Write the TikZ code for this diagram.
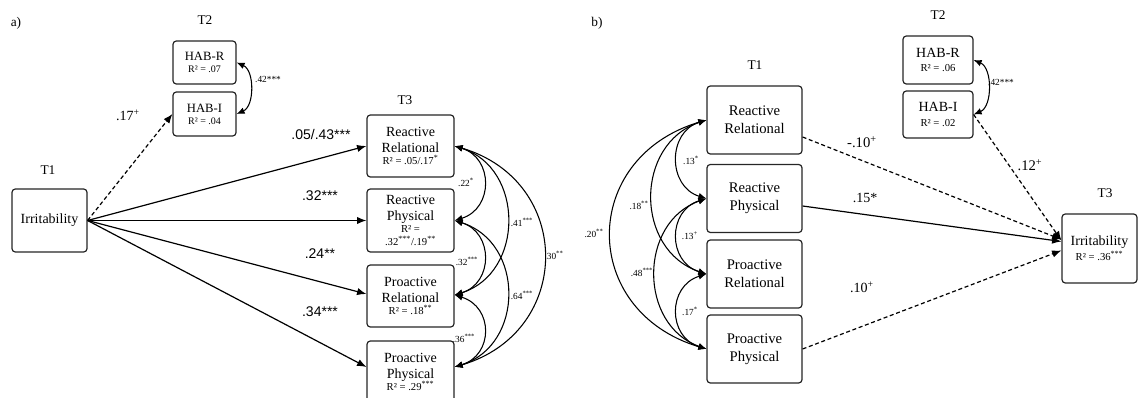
\documentclass[tikz,border=0pt]{standalone}
\usepackage{fontspec}
\setmainfont{Liberation Serif}
\newfontfamily\sanslabel{Liberation Sans}
\usetikzlibrary{arrows.meta,calc}

\newcommand\sig[1]{\textsuperscript{#1}}
\newcommand\rsqfont{\fontsize{8}{9}\selectfont}

\tikzset{
  >={Latex[length=7pt,width=5.5pt]},
  box/.style={draw=black!85, line width=0.9pt, rounded corners=2.5pt, align=center, inner sep=0pt, fill=white},
  lbox/.style={box, minimum width=65.25pt, minimum height=46.5pt, font=\fontsize{10.5}{12}\selectfont},
  rbox/.style={box, minimum width=71.25pt, minimum height=51pt, font=\fontsize{11}{13.5}\selectfont},
  habbox/.style={box, font=\fontsize{9.5}{11}\selectfont},
  effect/.style={->, line width=0.9pt},
  weak/.style={effect, dash pattern=on 3pt off 2pt},
  corr/.style={{Latex[length=6pt,width=5pt]}-{Latex[length=6pt,width=5pt]}, line width=0.8pt},
  wave/.style={font=\fontsize{10}{12}\selectfont, inner sep=0pt},
  coef/.style={font=\fontsize{10.5}{12}\selectfont, inner sep=0pt},
  coefsans/.style={font=\sanslabel\fontsize{10.5}{12}\selectfont, inner sep=0pt},
  rcoef/.style={font=\fontsize{7}{8}\selectfont, inner sep=0pt},
}

\begin{document}
\begin{tikzpicture}[x=0.75pt, y=-0.75pt]
\useasboundingbox (0,0) rectangle (1139,398);
\clip (0,0) rectangle (1139,398);

% ---------------- panel a ----------------
\node[wave] (pa) at (16,23) {a)};
\node[wave] (a1) at (48,170) {T1};
\node[wave] (a2) at (205,20) {T2};
\node[wave] (a3) at (405,100) {T3};

\node[box, minimum width=56.25pt, minimum height=47.25pt, font=\fontsize{10.5}{12}\selectfont] (airr) at (49.5,220.5) {Irritability};

\node[habbox, minimum width=47.25pt, minimum height=32.25pt] (ahabr) at (204.5,62.5)
  {HAB-R\\[-2pt]{\fontsize{7.5}{9}\selectfont R² = .07}};
\node[habbox, minimum width=47.25pt, minimum height=33pt] (ahabi) at (204.5,114)
  {HAB-I\\[-2pt]{\fontsize{7.5}{9}\selectfont R² = .04}};

\node[lbox] (arr) at (410.5,146)
  {Reactive\\Relational\\[-3.5pt]{\rsqfont R² = .05/.17\sig{*}}};
\node[lbox, minimum height=47.25pt] (arp) at (410.5,220.5)
  {Reactive\\Physical\\[-3pt]{\rsqfont R² =}\\[-2.5pt]{\rsqfont .32\sig{***}/.19\sig{**}}};
\node[lbox] (apr) at (410.5,296)
  {Proactive\\Relational\\[-3.5pt]{\rsqfont R² = .18\sig{**}}};
\node[lbox] (app) at (410.5,372)
  {Proactive\\Physical\\[-3.5pt]{\rsqfont R² = .29\sig{***}}};

% paths from irritability
\draw[weak] (airr.east) -- (ahabi.west);
\draw[effect] (airr.east) -- (arr.west);
\draw[effect] (airr.east) -- (arp.west);
\draw[effect] (airr.east) -- ($(apr.west)+(0,-2)$);
\draw[effect] (airr.east) -- ($(app.west)+(0,-5)$);

\node[coef] (c17) at (128,115) {.17\sig{+}};
\node[coefsans] (c05) at (321,135) {.05/.43***};
\node[coefsans] (c32) at (320,196) {.32***};
\node[coefsans] (c24) at (320,254) {.24**};
\node[coefsans] (c34) at (320,312) {.34***};

% correlations at T2
\draw[corr] (ahabr.east) .. controls +(18,8) and +(18,-8) .. (ahabi.east);
\node[rcoef] (chab) at (268,79) {.42***};

% correlations at T3
\draw[corr] (arr.east) .. controls +(39,12) and +(39,-12) .. (arp.east);
\draw[corr] (arp.east) .. controls +(39,12) and +(39,-12) .. ($(apr.east)+(0,-1)$);
\draw[corr] ($(apr.east)+(0,-1)$) .. controls +(39,12) and +(39,-12) .. ($(app.east)+(0,-5)$);
\draw[corr] (arr.east) .. controls +(70,22) and +(70,-22) .. ($(apr.east)+(0,-1)$);
\draw[corr] (arp.east) .. controls +(70,22) and +(70,-22) .. ($(app.east)+(0,-5)$);
\draw[corr] (arr.east) .. controls +(119,35) and +(119,-35) .. ($(app.east)+(0,-5)$);

\node[rcoef] (k22) at (466,182) {.22\sig{*}};
\node[rcoef] (k32) at (467,261) {.32\sig{***}};
\node[rcoef] (k36) at (464,338) {.36\sig{***}};
\node[rcoef] (k41) at (522,222) {.41\sig{***}};
\node[rcoef] (k64) at (522,295) {.64\sig{***}};
\node[rcoef] (k30) at (554,255) {.30\sig{**}};

% ---------------- panel b ----------------
\node[wave] (pb) at (597,23) {b)};
\node[wave] (b1) at (755,65) {T1};
\node[wave] (b2) at (938,15) {T2};
\node[wave] (b3) at (1105,193) {T3};

\node[rbox] (brr) at (754.5,120) {Reactive\\Relational};
\node[rbox] (brp) at (754.5,198.5) {Reactive\\Physical};
\node[rbox] (bpr) at (754.5,274) {Proactive\\Relational};
\node[rbox] (bpp) at (754.5,349) {Proactive\\Physical};

\node[habbox, minimum width=52.5pt, minimum height=36pt, font=\fontsize{10.5}{12}\selectfont] (bhabr) at (938,60)
  {HAB-R\\[-1pt]{\fontsize{8}{9}\selectfont R² = .06}};
\node[habbox, minimum width=52.5pt, minimum height=35.25pt, font=\fontsize{10.5}{12}\selectfont] (bhabi) at (938,114.5)
  {HAB-I\\[-1pt]{\fontsize{8}{9}\selectfont R² = .02}};

\node[box, minimum width=56.25pt, minimum height=51.75pt, font=\fontsize{10.5}{12}\selectfont] (birr) at (1099.5,248.5)
  {Irritability\\[-1pt]{\rsqfont R² = .36\sig{***}}};

% correlations at T1
\draw[corr] (brr.west) .. controls +(-39,12) and +(-39,-12) .. (brp.west);
\draw[corr] (brp.west) .. controls +(-39,12) and +(-39,-12) .. (bpr.west);
\draw[corr] (bpr.west) .. controls +(-39,12) and +(-39,-12) .. (bpp.west);
\draw[corr] (brr.west) .. controls +(-72,24) and +(-72,-24) .. (bpr.west);
\draw[corr] (brp.west) .. controls +(-68,24) and +(-68,-24) .. (bpp.west);
\draw[corr] (brr.west) .. controls +(-127,38) and +(-127,-38) .. (bpp.west);

\node[rcoef] (m13a) at (691,160) {.13\sig{*}};
\node[rcoef] (m13b) at (690,236) {.13\sig{+}};
\node[rcoef] (m17) at (690,311) {.17\sig{*}};
\node[rcoef] (m18) at (639,205) {.18\sig{**}};
\node[rcoef] (m48) at (642,272) {.48\sig{***}};
\node[rcoef] (m20) at (594,233) {.20\sig{**}};

% correlation at T2
\draw[corr] (bhabr.east) .. controls +(19,8) and +(19,-8) .. (bhabi.east);
\node[rcoef] (mhab) at (1001,82) {.42***};

% paths to irritability
\draw[weak] ($(brr.east)+(0,17)$) -- ($(birr.west)+(0,-9)$);
\draw[effect] ($(brp.east)+(0,7.5)$) -- ($(birr.west)+(0,-7)$);
\draw[weak] (bpp.east) -- ($(birr.west)+(0,2)$);
\draw[weak] (bhabi.east) -- ($(birr.west)+(0,-8)$);

\node[coef, font=\fontsize{11}{12}\selectfont] (n10a) at (862,142) {-.10\sig{+}};
\node[coef] (n15) at (865,198) {.15*};
\node[coef] (n10b) at (862,287) {.10\sig{+}};
\node[coef, font=\fontsize{11}{12}\selectfont] (n12) at (1030,165) {.12\sig{+}};
\end{tikzpicture}
\end{document}
